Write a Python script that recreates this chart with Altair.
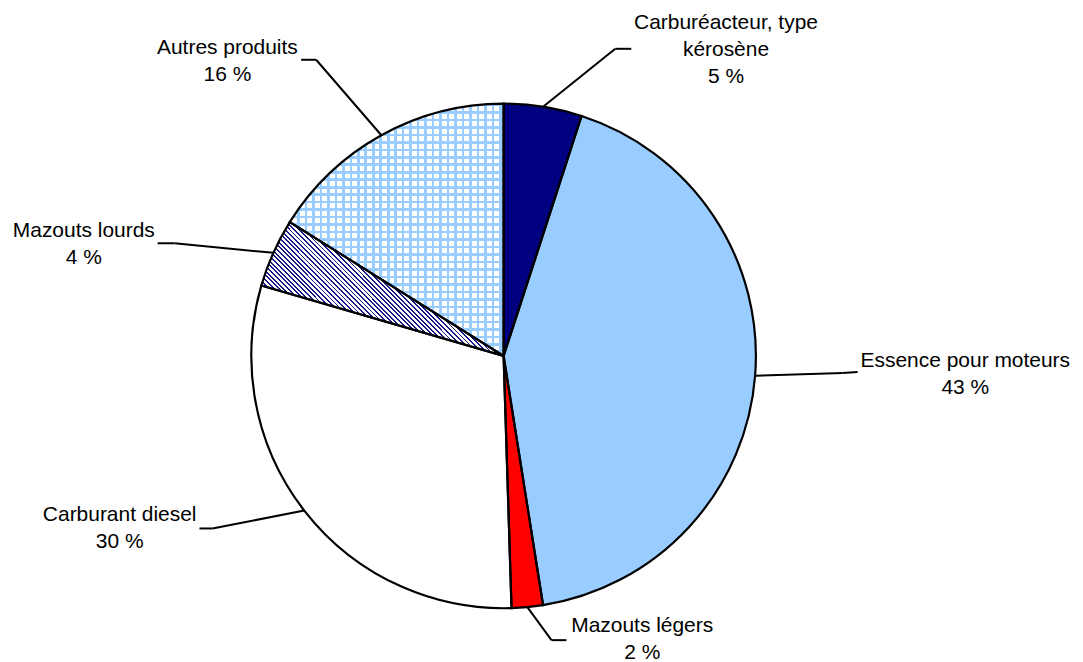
import altair as alt
import pandas as pd

# ---------------- data ----------------
categories = ["Carburéacteur, type kérosène", "Essence pour moteurs", "Mazouts légers",
              "Carburant diesel", "Mazouts lourds", "Autres produits"]
label_names = ["Carburéacteur, type\nkérosène", "Essence pour moteurs", "Mazouts légers",
               "Carburant diesel", "Mazouts lourds", "Autres produits"]
shares = [5.0, 42.5, 2.0, 30.0, 4.4, 16.1]
share_labels = ["5 %", "43 %", "2 %", "30 %", "4 %", "16 %"]

# ---------------- styles / layout ----------------
solid_fills = ["#000080", "#99ccff", "#ff0000", "#ffffff", "#ffffff", "#ffffff"]
CX, CY, R = 497, 348, 253
elbow_x = [609, 837, 545, 205, 167, 309]
elbow_y = [40, 365, 633, 521, 235, 51]
end_x = [625, 852, 560, 192, 150, 294]
end_y = [40, 364, 633, 521, 235, 51]
label_x = [720, 960, 636, 112, 76, 220]
label_y = [20, 359, 625, 514, 229, 45]
FONT = "Liberation Sans"

df = pd.DataFrame({
    "category": categories,
    "value": shares,
    "order": list(range(len(categories))),
    "fill": solid_fills,
    "txt": [n + "\n" + p for n, p in zip(label_names, share_labels)],
    "bx": elbow_x, "by": elbow_y,
    "tx": end_x, "ty": end_y,
    "lx": label_x, "ly": label_y,
})


def stripe_stops(length_px, period, line_w, line_color, gap_color):
    stops = []
    pos = 0.0
    while pos < length_px:
        a = pos / length_px
        b = min((pos + line_w) / length_px, 1.0)
        c = min((pos + period) / length_px, 1.0)
        stops += [alt.GradientStop(offset=a, color=line_color),
                  alt.GradientStop(offset=b, color=line_color),
                  alt.GradientStop(offset=b, color=gap_color),
                  alt.GradientStop(offset=c, color=gap_color)]
        pos += period
    return stops


# diagonal hatch for "Mazouts lourds" (bbox approx 243 x 134)
w_h, h_h = 243.0, 134.0
s = (w_h + h_h) / (w_h ** 2 + h_h ** 2)
hatch = alt.LinearGradient(
    gradient="linear",
    stops=stripe_stops((w_h + h_h) / 2 ** 0.5, 3.3, 1.3, "#1a1a8c", "#ffffff"),
    x1=0, y1=1, x2=s * w_h, y2=1 - s * h_h,
)
# grid for "Autres produits" (bbox approx 215 x 253)
grid_h = alt.LinearGradient(
    gradient="linear",
    stops=stripe_stops(253.0, 7.5, 2.6, "#99ccff", "#ffffff"),
    x1=0, y1=0, x2=0, y2=1,
)
grid_v = alt.LinearGradient(
    gradient="linear",
    stops=stripe_stops(214.6, 7.5, 2.6, "#99ccff", "rgba(255,255,255,0)"),
    x1=0, y1=0, x2=1, y2=0,
)

base = alt.Chart(df)

arc_enc = dict(
    theta=alt.Theta("a0:Q", scale=None),
    theta2=alt.Theta2("a1:Q"),
    x=alt.value(CX),
    y=alt.value(CY),
)

slices = base.mark_arc(radius=R, strokeWidth=0).encode(
    fill=alt.Fill("fill:N", scale=None), **arc_enc)
lourds = base.mark_arc(radius=R, strokeWidth=0, fill=hatch).encode(**arc_enc).transform_filter(
    alt.datum.category == "Mazouts lourds")
autres_h = base.mark_arc(radius=R, strokeWidth=0, fill=grid_h).encode(**arc_enc).transform_filter(
    alt.datum.category == "Autres produits")
autres_v = base.mark_arc(radius=R, strokeWidth=0, fill=grid_v).encode(**arc_enc).transform_filter(
    alt.datum.category == "Autres produits")
outlines = base.mark_arc(radius=R, fillOpacity=0, stroke="#000000", strokeWidth=2.2,
                         strokeJoin="miter").encode(**arc_enc)

seg1 = base.mark_rule(color="#000000", strokeWidth=2).encode(
    x=alt.X("ex:Q", scale=None, axis=None), y=alt.Y("ey:Q", scale=None, axis=None),
    x2="bx:Q", y2="by:Q")
seg2 = base.mark_rule(color="#000000", strokeWidth=2).encode(
    x=alt.X("bx:Q", scale=None, axis=None), y=alt.Y("by:Q", scale=None, axis=None),
    x2="tx:Q", y2="ty:Q")

labels = base.mark_text(align="center", baseline="alphabetic", fontSize=21, font=FONT,
                        lineHeight=27, lineBreak="\n", color="#000000").encode(
    x=alt.X("lx:Q", scale=None, axis=None), y=alt.Y("ly:Q", scale=None, axis=None),
    text="txt:N")

chart = alt.layer(seg1, seg2, slices, lourds, autres_h, autres_v, outlines, labels).transform_joinaggregate(
    total="sum(value)"
).transform_window(
    cum="sum(value)", sort=[alt.SortField("order")], frame=[None, 0]
).transform_calculate(
    a0="2*PI*(datum.cum - datum.value)/datum.total",
    a1="2*PI*datum.cum/datum.total",
).transform_calculate(
    ex=f"{CX} + {R}*sin((datum.a0 + datum.a1)/2)",
    ey=f"{CY} - {R}*cos((datum.a0 + datum.a1)/2)",
).properties(
    width=1070, height=656, padding=0,
    autosize=alt.AutoSizeParams(type="none"),
    background="#ffffff",
).configure_view(stroke=None)

chart.save("out.html", embed_options={"renderer": "svg", "actions": False})
